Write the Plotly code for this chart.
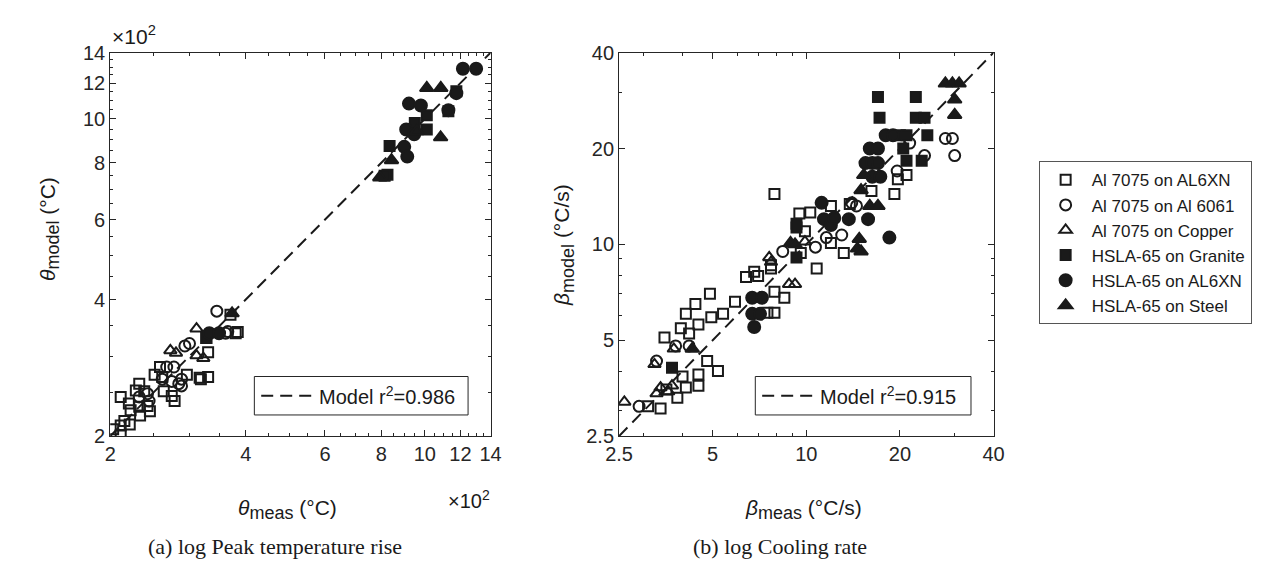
import plotly.graph_objects as go
import math

W, H = 1273, 565

# ---------------- data: (a) peak temperature rise (deg C) ----------------
a_sq_meas  = [370, 384, 380, 330, 258, 261, 251, 296, 316, 330, 318, 263, 274, 278, 232, 228, 238, 211, 220, 222, 232, 242, 233, 245, 221, 211, 203, 211, 215, 327]
a_sq_model = [370, 339, 337, 306, 284, 270, 273, 273, 269, 270, 267, 251, 245, 239, 261, 252, 251, 244, 236, 228, 232, 233, 222, 227, 212, 211, 207, 201, 216, 329]
a_ci_meas  = [345, 361, 293, 267, 277, 261, 274, 288, 284, 288, 232, 242, 244, 365, 300]
a_ci_model = [377, 337, 316, 284, 284, 267, 264, 267, 261, 258, 244, 248, 239, 340, 320]
a_tr_meas  = [311, 272, 311, 322, 280]
a_tr_model = [345, 309, 301, 297, 305]
a_fsq_meas  = [1175, 1010, 1010, 835, 826, 814, 1128, 950, 327]
a_fsq_model = [1151, 1019, 948, 872, 753, 750, 1040, 980, 329]
a_fci_meas  = [1215, 1300, 922, 980, 909, 947, 900, 914, 1128, 1175, 332, 349]
a_fci_model = [1290, 1290, 1081, 1071, 948, 925, 868, 826, 1045, 1140, 337, 337]
a_ftr_meas  = [1010, 1085, 1084, 843, 794, 960, 373]
a_ftr_model = [1170, 1170, 911, 811, 743, 940, 373]

# ---------------- data: (b) cooling rate (deg C/s) ----------------
b_sq_meas  = [7.9, 12, 13.8, 16.2, 19.2, 19.7, 21, 9.5, 10.3, 9.9, 12, 13.2, 9.6, 7.7, 7.7, 10.8, 6.4, 6.8, 7.0, 4.9, 5.9, 7.9, 8.5, 7.5, 7.9, 4.4, 4.1, 3.95, 3.5, 4.95, 5.4, 4.5, 4.2, 4.8, 5.2, 4.0, 4.5, 4.5, 4.1, 3.55, 3.85, 3.1, 3.4]
b_sq_model = [14.4, 13.2, 13.4, 14.7, 14.4, 16, 16.5, 12.5, 12.6, 11, 10.1, 9.4, 9.4, 8.6, 8.4, 8.4, 7.9, 8.2, 7.95, 7.0, 6.6, 7.1, 6.8, 6.1, 6.1, 6.5, 6.05, 5.45, 5.1, 5.9, 6.05, 5.6, 5.25, 4.3, 4.0, 3.85, 3.9, 3.6, 3.55, 3.5, 3.3, 3.1, 3.05]
b_ci_meas  = [28, 29.5, 30, 21.5, 24, 19.6, 14.5, 11.6, 13, 10.7, 8.4, 3.8, 4.2, 3.3, 2.9, 14]
b_ci_model = [21.5, 21.5, 19, 20.8, 19, 17, 13.2, 10.5, 10.7, 9.8, 9.5, 4.8, 4.8, 4.3, 3.1, 13.5]
b_tr_meas  = [7.6, 7.7, 8.8, 9.2, 3.75, 3.25, 3.4, 3.7, 3.3, 3.6, 2.6, 9.9]
b_tr_model = [9.1, 8.8, 7.5, 7.5, 4.7, 4.2, 3.55, 3.6, 3.4, 3.45, 3.2, 10.2]
b_fsq_meas  = [17, 22.5, 17.2, 22.5, 24, 24.5, 20, 21, 20.5, 21, 23.5, 9.3, 9.3, 9.3, 3.7]
b_fsq_model = [29, 29, 25, 25, 25, 22, 22, 22, 20, 18.3, 18.3, 11.6, 11.3, 9.1, 4.1]
b_fci_meas  = [18, 19, 16, 17, 15.5, 16.3, 17, 16.3, 17.3, 11.2, 13.7, 15.8, 11.4, 12, 12.3, 18.5, 6.7, 7.2, 6.7, 7.1, 6.8]
b_fci_model = [22, 22, 20, 20, 18, 18, 18, 16.3, 16.3, 13.5, 12, 12, 12, 11.5, 12.1, 10.5, 6.8, 6.8, 6.05, 6.05, 5.5]
b_ftr_meas  = [28, 29.5, 31, 30, 30, 15.3, 15, 16, 17, 14.8, 14.6, 15, 8.9, 9.2, 4.3]
b_ftr_model = [32, 32, 32, 28.5, 25.5, 16.5, 14.8, 13.2, 13.2, 10.4, 9.7, 9.5, 10.1, 10, 4.7]

series_names = ["Al 7075 on AL6XN", "Al 7075 on Al 6061", "Al 7075 on Copper",
                "HSLA-65 on Granite", "HSLA-65 on AL6XN", "HSLA-65 on Steel"]

a_ticks = [200, 400, 600, 800, 1000, 1200, 1400]
a_ticktext = ["2", "4", "6", "8", "10", "12", "14"]
a_minor = [250, 300, 350, 450, 500, 550, 650, 700, 750, 850, 900, 950, 1050, 1100, 1150, 1250, 1300, 1350]
b_ticks = [2.5, 5, 10, 20, 40]
b_ticktext = ["2.5", "5", "10", "20", "40"]
b_minor = [3, 4, 6, 7, 8, 9, 30]

a_range = [200, 1400]
b_range = [2.5, 40]

r2_a = "0.986"
r2_b = "0.915"

# ---------------- figure ----------------
INK = "#1a1a1a"
AX = "#262626"
FONT = "Liberation Sans, Arial, sans-serif"
SERIF = "Liberation Serif, Times New Roman, serif"

def px(x):
    return x / W

def py(y):
    return 1 - y / H

fig = go.Figure()

styles = [
    dict(symbol="square-open", size=10),
    dict(symbol="circle-open", size=11),
    dict(symbol="triangle-up-open", size=11),
    dict(symbol="square", size=10),
    dict(symbol="circle", size=12),
    dict(symbol="triangle-up", size=12),
]

a_data = [(a_sq_meas, a_sq_model), (a_ci_meas, a_ci_model), (a_tr_meas, a_tr_model),
          (a_fsq_meas, a_fsq_model), (a_fci_meas, a_fci_model), (a_ftr_meas, a_ftr_model)]
b_data = [(b_sq_meas, b_sq_model), (b_ci_meas, b_ci_model), (b_tr_meas, b_tr_model),
          (b_fsq_meas, b_fsq_model), (b_fci_meas, b_fci_model), (b_ftr_meas, b_ftr_model)]

fig.add_trace(go.Scatter(x=a_range, y=a_range, mode="lines", xaxis="x", yaxis="y",
                         line=dict(color=INK, width=2, dash="12px,7px"), showlegend=False))
fig.add_trace(go.Scatter(x=b_range, y=b_range, mode="lines", xaxis="x2", yaxis="y2",
                         line=dict(color=INK, width=2, dash="12px,7px"), showlegend=False))

for name, st, (mx, my) in zip(series_names, styles, a_data):
    fig.add_trace(go.Scatter(x=mx, y=my, mode="markers", name=name, xaxis="x", yaxis="y",
                             marker=dict(symbol=st["symbol"], size=st["size"], color=INK,
                                         line=dict(width=2, color=INK)),
                             legendgroup=name, showlegend=True))
for name, st, (mx, my) in zip(series_names, styles, b_data):
    fig.add_trace(go.Scatter(x=mx, y=my, mode="markers", name=name, xaxis="x2", yaxis="y2",
                             marker=dict(symbol=st["symbol"], size=st["size"], color=INK,
                                         line=dict(width=2, color=INK)),
                             legendgroup=name, showlegend=False))


def axis(domain, rng, tv, tt, minor, anchor):
    return dict(type="log", domain=domain, range=[math.log10(rng[0]), math.log10(rng[1])],
                tickvals=tv, ticktext=tt, ticks="inside", ticklen=6, tickwidth=1,
                tickcolor=AX, showline=True, linecolor=AX, linewidth=1, mirror="ticks",
                showgrid=False, zeroline=False, anchor=anchor,
                tickfont=dict(family=FONT, size=20, color=AX),
                minor=dict(tickvals=minor, ticks="inside", ticklen=3, tickcolor=AX, showgrid=False))

ax_top, ax_bot = 35, 434
fig.update_layout(
    width=W, height=H, margin=dict(l=0, r=0, t=0, b=0),
    paper_bgcolor="white", plot_bgcolor="white",
    xaxis=axis([px(90), px(478)], a_range, a_ticks, a_ticktext, a_minor, "y"),
    yaxis=axis([py(ax_bot), py(ax_top)], a_range, a_ticks, a_ticktext, a_minor, "x"),
    xaxis2=axis([px(609), px(991)], b_range, b_ticks, b_ticktext, b_minor, "y2"),
    yaxis2=axis([py(ax_bot), py(ax_top)], b_range, b_ticks, b_ticktext, b_minor, "x2"),
    legend=dict(x=px(1037), y=py(148), xanchor="left", yanchor="top",
                bgcolor="white", bordercolor="#555", borderwidth=1,
                font=dict(family=FONT, size=17, color=INK), tracegroupgap=0,
                itemwidth=42, itemsizing="trace", entrywidth=180),
    showlegend=True,
)

ann = []
def A(x, y, text, size=20, family=FONT, angle=0, xanchor="center", yanchor="middle"):
    ann.append(dict(x=px(x), y=py(y), xref="paper", yref="paper", text=text, showarrow=False,
                    font=dict(family=family, size=size, color=INK), textangle=angle,
                    xanchor=xanchor, yanchor=yanchor))

def sub(s):
    return "<sub><span style='font-size:18px'>" + s + "</span></sub>"

A(90, 17, "×10<sup>2</sup>", size=21, xanchor="left")
A(433, 500, "×10<sup>2</sup>", size=20, xanchor="left")
A(28, 218, "<i>θ</i>" + sub("model") + " (°C)", size=21, angle=-90)
A(271, 510, "<i>θ</i>" + sub("meas") + " (°C)", size=21)
A(553, 235, "<i>β</i>" + sub("model") + " (°C/s)", size=21, angle=-90)
A(797, 510, "<i>β</i>" + sub("meas") + " (°C/s)", size=21)
A(258, 549, "(a) log Peak temperature rise", size=22, family=SERIF)
A(773, 549, "(b) log Cooling rate", size=22, family=SERIF)
A(301, 392, "Model r<sup>2</sup>=" + r2_a, size=20, xanchor="left")
A(812, 392, "Model r<sup>2</sup>=" + r2_b, size=20, xanchor="left")

shapes = []
for (x0, x1, lx0, lx1) in [(237, 455, 244, 297), (748, 968, 755, 808)]:
    shapes.append(dict(type="rect", xref="paper", yref="paper", x0=px(x0), x1=px(x1),
                       y0=py(412), y1=py(372), line=dict(color=AX, width=1), fillcolor="white",
                       layer="above"))
    shapes.append(dict(type="line", xref="paper", yref="paper", x0=px(lx0), x1=px(lx1),
                       y0=py(392), y1=py(392), line=dict(color=INK, width=2, dash="12px,7px"),
                       layer="above"))

fig.update_layout(annotations=ann, shapes=shapes)
fig.write_html("out.html")
